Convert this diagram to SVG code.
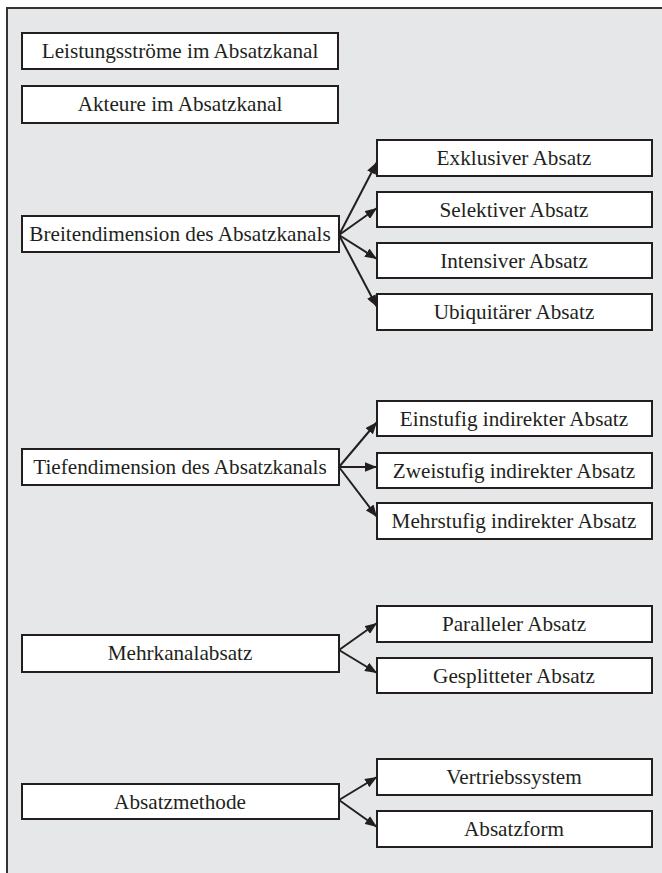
<svg xmlns="http://www.w3.org/2000/svg" width="662" height="873" viewBox="0 0 662 873">
<style>
.box{fill:#fff;stroke:#231f20;stroke-width:2}
.t{font-family:'Liberation Serif','Times New Roman',Times,serif;font-size:21.2px;fill:#231f20;text-anchor:middle}
.c{stroke:#231f20;stroke-width:2;fill:none;marker-end:url(#ah)}
</style>
<defs>
<marker id="ah" viewBox="0 0 10 8" refX="10" refY="4" markerWidth="6" markerHeight="4.8" orient="auto" markerUnits="strokeWidth">
<path d="M0,0 L10,4 L0,8 z" fill="#231f20"/>
</marker>
</defs>
<rect x="0" y="0" width="662" height="873" fill="#fff"/>
<rect x="8" y="9" width="655" height="865" fill="#e6e7e8"/>
<path d="M7,874 L7,8 L663,8" fill="none" stroke="#333" stroke-width="2"/>

<g id="n-leistung"><rect class="box" x="22" y="33" width="316" height="36"/><text class="t" x="180" y="58">Leistungsströme im Absatzkanal</text></g>
<g id="n-akteure"><rect class="box" x="22" y="86" width="316" height="37"/><text class="t" x="180" y="111">Akteure im Absatzkanal</text></g>

<g id="n-breite"><rect class="box" x="22" y="216" width="317" height="36"/><text class="t" x="180" y="241">Breitendimension des Absatzkanals</text></g>
<g id="n-exklusiv"><rect class="box" x="377" y="140" width="275" height="36"/><text class="t" x="514" y="165">Exklusiver Absatz</text></g>
<g id="n-selektiv"><rect class="box" x="377" y="192" width="275" height="35"/><text class="t" x="514" y="217">Selektiver Absatz</text></g>
<g id="n-intensiv"><rect class="box" x="377" y="243" width="275" height="35"/><text class="t" x="514" y="268">Intensiver Absatz</text></g>
<g id="n-ubiquitaer"><rect class="box" x="377" y="294" width="275" height="36"/><text class="t" x="514" y="319">Ubiquitärer Absatz</text></g>

<g id="n-tiefe"><rect class="box" x="22" y="449" width="317" height="36"/><text class="t" x="180" y="474">Tiefendimension des Absatzkanals</text></g>
<g id="n-einstufig"><rect class="box" x="377" y="401" width="275" height="35"/><text class="t" x="514" y="426">Einstufig indirekter Absatz</text></g>
<g id="n-zweistufig"><rect class="box" x="377" y="453" width="275" height="35"/><text class="t" x="514" y="478">Zweistufig indirekter Absatz</text></g>
<g id="n-mehrstufig"><rect class="box" x="377" y="503" width="275" height="36"/><text class="t" x="514" y="528">Mehrstufig indirekter Absatz</text></g>

<g id="n-mehrkanal"><rect class="box" x="22" y="635" width="317" height="37"/><text class="t" x="180" y="660">Mehrkanalabsatz</text></g>
<g id="n-parallel"><rect class="box" x="377" y="606" width="275" height="36"/><text class="t" x="514" y="631">Paralleler Absatz</text></g>
<g id="n-gesplittet"><rect class="box" x="377" y="658" width="275" height="35"/><text class="t" x="514" y="683">Gesplitteter Absatz</text></g>

<g id="n-methode"><rect class="box" x="22" y="784" width="317" height="35"/><text class="t" x="180" y="809">Absatzmethode</text></g>
<g id="n-vertrieb"><rect class="box" x="377" y="759" width="275" height="36"/><text class="t" x="514" y="784">Vertriebssystem</text></g>
<g id="n-form"><rect class="box" x="377" y="811" width="275" height="36"/><text class="t" x="514" y="836">Absatzform</text></g>

<g id="connectors">
<path class="c" d="M339,235 L377,162"/>
<path class="c" d="M339,235 L377,208"/>
<path class="c" d="M339,235 L377,259"/>
<path class="c" d="M339,235 L377,307"/>
<path class="c" d="M339,467 L377,422"/>
<path class="c" d="M339,467 L377,467"/>
<path class="c" d="M339,467 L377,517"/>
<path class="c" d="M339,650 L377,623"/>
<path class="c" d="M339,650 L377,673"/>
<path class="c" d="M339,800 L377,777"/>
<path class="c" d="M339,800 L377,827"/>
</g>
</svg>
